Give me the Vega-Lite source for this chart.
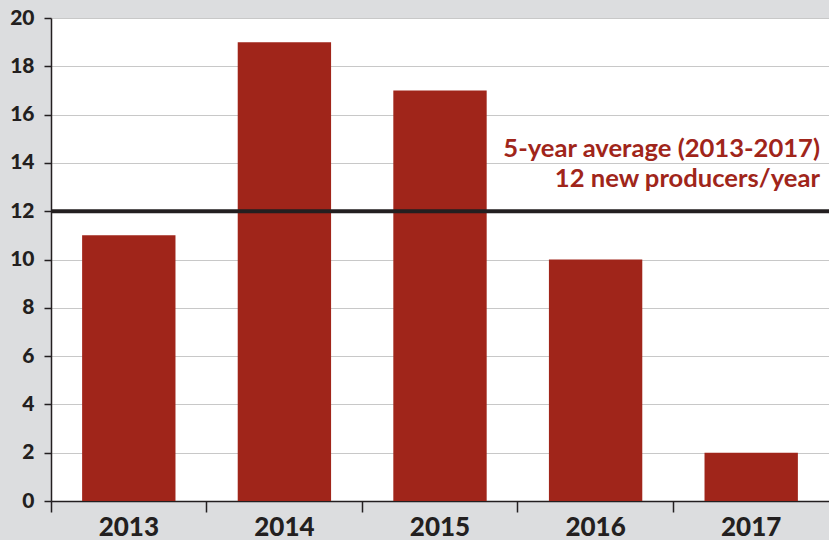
{
  "$schema": "https://vega.github.io/schema/vega-lite/v6.json",
  "autosize": "none",
  "width": 778,
  "height": 483,
  "padding": {"left": 51, "top": 18, "right": 0, "bottom": 39},
  "background": "#dcdddf",
  "config": {
    "view": {"fill": "white", "stroke": null},
    "font": "Lato"
  },
  "datasets": {
    "bars": [
      {"year": "2013", "producers": 11},
      {"year": "2014", "producers": 19},
      {"year": "2015", "producers": 17},
      {"year": "2016", "producers": 10},
      {"year": "2017", "producers": 2}
    ],
    "notes": [
      {"year": "2017", "y": 14.25, "label": "5-year average (2013-2017)"},
      {"year": "2017", "y": 13.0, "label": "12 new producers/year"}
    ],
    "avg": [{"average": 12}]
  },
  "layer": [
    {
      "data": {"name": "bars"},
      "mark": {"type": "bar", "color": "#a0251a", "width": {"band": 0.6}},
      "encoding": {
        "x": {
          "field": "year", "type": "ordinal", "title": null,
          "scale": {"paddingInner": 0, "paddingOuter": 0},
          "axis": {
            "bandPosition": 0,
            "labelAngle": 0,
            "labelFontSize": 26,
            "labelFontWeight": 900,
            "labelColor": "#231f20",
            "labelPadding": 2,
            "tickSize": 11,
            "tickColor": "#231f20",
            "tickWidth": 1.5,
            "domainColor": "#231f20",
            "domainWidth": 1.5,
            "grid": false
          }
        },
        "y": {
          "field": "producers", "type": "quantitative", "title": null,
          "scale": {"domain": [0, 20]},
          "axis": {
            "values": [0, 2, 4, 6, 8, 10, 12, 14, 16, 18, 20],
            "labelFontSize": 21,
            "labelFontWeight": 900,
            "labelColor": "#231f20",
            "labelPadding": 10,
            "tickSize": 7,
            "tickColor": "#231f20",
            "tickWidth": 1.5,
            "domainColor": "#231f20",
            "domainWidth": 1.5,
            "gridColor": "#c8c8c8",
            "gridWidth": 1
          }
        }
      }
    },
    {
      "data": {"name": "avg"},
      "mark": {"type": "rule", "color": "#231f20", "strokeWidth": 4},
      "encoding": {"y": {"field": "average", "type": "quantitative"}}
    },
    {
      "data": {"name": "notes"},
      "mark": {"type": "text", "align": "right", "baseline": "alphabetic", "dx": -9, "fontSize": 25.6, "fontWeight": "bold", "color": "#a0251a"},
      "encoding": {
        "x": {"field": "year", "type": "ordinal", "bandPosition": 1},
        "y": {"field": "y", "type": "quantitative"},
        "text": {"field": "label"}
      }
    }
  ]
}
